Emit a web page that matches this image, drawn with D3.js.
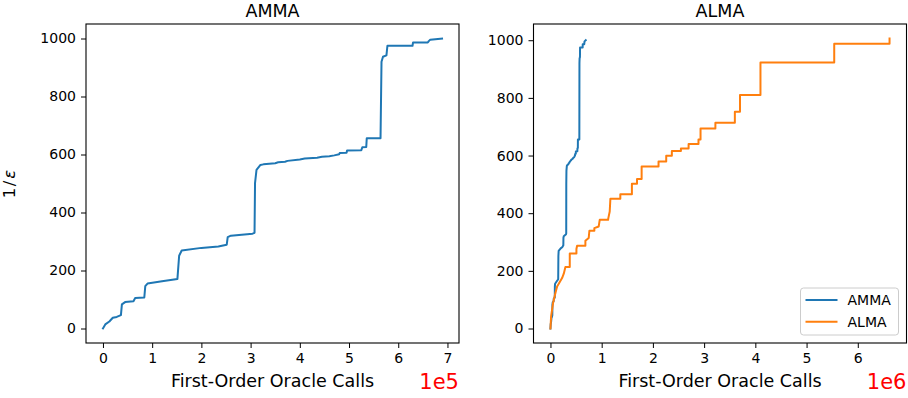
<!DOCTYPE html>
<html>
<head>
<meta charset="utf-8">
<script src="https://cdn.jsdelivr.net/npm/d3@7"></script>
<style>
  html, body { margin: 0; padding: 0; background: #fff; }
  svg { display: block; font-family: "DejaVu Sans", sans-serif; }
  .tick text { font-size: 14px; font-family: "DejaVu Sans", sans-serif; fill: #000; }
</style>
</head>
<body>
<svg id="chart" width="908" height="398"></svg>
<script>
// AMMA: first-order oracle calls vs 1/epsilon
const ammaCalls = [0, 4700, 13000, 20000, 28000, 36500, 38500, 45000, 62000, 65500, 84000, 86000, 90500,
  120000, 151300, 154800, 160000, 200000, 234500, 251500, 253500, 260000, 304000, 308000, 309000, 312000,
  320000, 326000, 350000, 356000, 370000, 375000, 400000, 410000, 435000, 445000, 460000, 470000, 480000,
  481000, 495000, 496000, 525000, 527000, 535000, 536000, 564000, 566000, 569000, 576000, 578000, 629000,
  630000, 660000, 662000, 665000, 689000];
const ammaInvEps = [0, 14, 24, 37, 40, 46, 83, 91, 94, 105, 107, 146, 155,
  163, 171, 251, 269, 278, 283, 289, 315, 320, 327, 330, 501, 547,
  564, 566, 570, 573, 575, 578, 583, 586, 589, 592, 594, 597, 601,
  605, 606, 614, 615, 625, 626, 656, 656, 920, 937, 942, 975, 975,
  986, 986, 991, 996, 1000];

// ALMA: first-order oracle calls vs 1/epsilon
const almaCalls = [0, 13000, 52000, 97000, 130000, 162000, 227000, 260000, 292000, 377000, 377000, 507000,
  507000, 520000, 682000, 682000, 747000, 760000, 857000, 857000, 942000, 962000, 1125000, 1130000,
  1157000, 1170000, 1364000, 1364000, 1590000, 1590000, 1690000, 1690000, 1780000, 1780000, 2110000,
  2110000, 2260000, 2260000, 2370000, 2370000, 2547000, 2547000, 2697000, 2697000, 2890000, 2890000,
  2930000, 2930000, 3220000, 3220000, 3600000, 3600000, 3700000, 3700000, 4100000, 4100000, 5540000,
  5540000, 6620000, 6620000];
const almaInvEps = [0, 43, 89, 123, 146, 155, 175, 190, 213, 213, 260, 260,
  276, 287, 287, 304, 314, 339, 339, 348, 354, 377, 377, 383,
  406, 450, 450, 466, 466, 502, 502, 519, 519, 562, 562,
  579, 579, 599, 599, 616, 616, 624, 624, 640, 640, 656,
  656, 694, 694, 714, 714, 752, 752, 810, 810, 923, 923,
  988, 988, 1006];

const yTicks = [0, 200, 400, 600, 800, 1000];
const seriesNames = ["AMMA", "ALMA"];
const seriesColors = ["#1f77b4", "#ff7f0e"];

const svg = d3.select("#chart");

const zip = (xs, ys) => xs.map((x, i) => ({x, y: ys[i]}));
const ammaPts = zip(ammaCalls, ammaInvEps);
const almaPts = zip(almaCalls, almaInvEps);

// Matplotlib-style 5% margins around the data range
function padded(lo, hi) {
  const p = (hi - lo) * 0.05;
  return [lo - p, hi + p];
}

function panel(opts) {
  const {left, right, top, bottom, series, title, exp, xTicks} = opts;
  const allPts = series.flatMap(s => s.pts);
  const x = d3.scaleLinear()
    .domain(padded(d3.min(allPts, d => d.x), d3.max(allPts, d => d.x)))
    .range([left, right]);
  const y = d3.scaleLinear()
    .domain(padded(d3.min(allPts, d => d.y), d3.max(allPts, d => d.y)))
    .range([bottom, top]);
  const scale = Math.pow(10, exp);

  const g = svg.append("g");

  const xAxis = g.append("g")
    .attr("transform", `translate(0,${bottom})`)
    .call(d3.axisBottom(x).tickValues(xTicks.map(t => t * scale))
      .tickFormat(d => String(Math.round(d / scale)))
      .tickSize(5).tickPadding(5));
  const yAxis = g.append("g")
    .attr("transform", `translate(${left},0)`)
    .call(d3.axisLeft(y).tickValues(yTicks).tickFormat(d3.format("d"))
      .tickSize(5).tickPadding(5));
  [xAxis, yAxis].forEach(a => {
    a.attr("font-size", null).attr("font-family", null);
    a.select(".domain").remove();
    a.selectAll("line").attr("stroke", "#000").attr("stroke-width", 1);
  });

  const line = d3.line().x(d => x(d.x)).y(d => y(d.y));
  const clipId = "clip-" + title;
  g.append("clipPath").attr("id", clipId)
    .append("rect").attr("x", left).attr("y", top)
    .attr("width", right - left).attr("height", bottom - top);
  series.forEach(s => {
    g.append("path").datum(s.pts)
      .attr("clip-path", `url(#${clipId})`)
      .attr("d", line)
      .attr("fill", "none")
      .attr("stroke", s.color)
      .attr("stroke-width", 2)
      .attr("stroke-linejoin", "round")
      .attr("stroke-linecap", "square");
  });

  g.append("rect")
    .attr("x", left).attr("y", top)
    .attr("width", right - left).attr("height", bottom - top)
    .attr("fill", "none").attr("stroke", "#000").attr("stroke-width", 1.1);

  g.append("text").attr("x", (left + right) / 2).attr("y", 17)
    .attr("text-anchor", "middle").style("font-size", "17.5px").text(title);
  g.append("text").attr("x", (left + right) / 2).attr("y", 387)
    .attr("text-anchor", "middle").style("font-size", "17.5px").text("First-Order Oracle Calls");
  g.append("text").attr("x", right).attr("y", 389)
    .attr("text-anchor", "end").style("font-size", "21px").attr("fill", "red")
    .text("1e" + exp);
  return {x, y};
}

panel({
  left: 86, right: 459, top: 24, bottom: 343,
  title: "AMMA", exp: 5, xTicks: [0, 1, 2, 3, 4, 5, 6, 7],
  series: [{pts: ammaPts, color: seriesColors[0]}]
});

panel({
  left: 533.5, right: 906.5, top: 24, bottom: 343,
  title: "ALMA", exp: 6, xTicks: [0, 1, 2, 3, 4, 5, 6],
  series: [{pts: ammaPts, color: seriesColors[0]}, {pts: almaPts, color: seriesColors[1]}]
});

// y-axis label
const yl = svg.append("text")
  .attr("transform", "translate(15,184) rotate(-90)")
  .attr("text-anchor", "middle").style("font-size", "16.5px");
yl.append("tspan").text("1");
yl.append("tspan").attr("dx", 1.5).text("/");
yl.append("tspan").attr("dx", 2).attr("font-style", "italic").text("ε");

// legend
const lg = svg.append("g").attr("transform", "translate(800.5,288)");
lg.append("rect").attr("width", 98).attr("height", 47).attr("rx", 3)
  .attr("fill", "#fff").attr("fill-opacity", 0.8)
  .attr("stroke", "#ccc").attr("stroke-width", 1);
seriesNames.forEach((name, i) => {
  const yy = 12 + i * 21.7;
  lg.append("line").attr("x1", 5).attr("x2", 37).attr("y1", yy).attr("y2", yy)
    .attr("stroke", seriesColors[i]).attr("stroke-width", 2);
  lg.append("text").attr("x", 47).attr("y", yy + 5).style("font-size", "14px").text(name);
});
</script>
</body>
</html>
